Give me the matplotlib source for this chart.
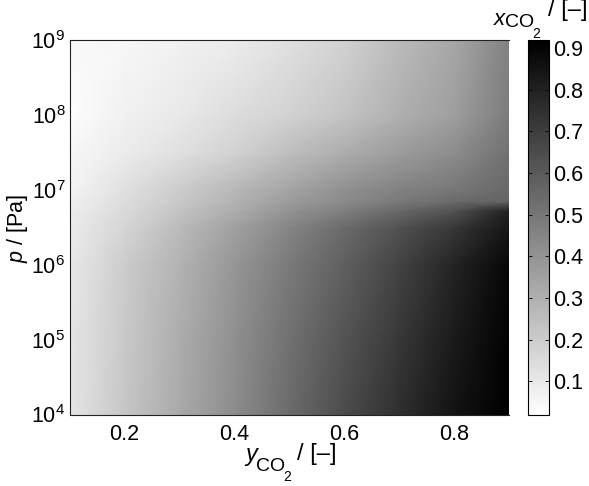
import numpy as np
import matplotlib
matplotlib.use("Agg")
import matplotlib.pyplot as plt

plt.rcParams["font.family"] = ["Liberation Sans", "DejaVu Sans"]
plt.rcParams["mathtext.fontset"] = "custom"
plt.rcParams["mathtext.rm"] = "Liberation Sans"
plt.rcParams["mathtext.it"] = "Liberation Sans:italic"
plt.rcParams["mathtext.bf"] = "Liberation Sans:bold"

y_co2 = [0.1, 0.2, 0.3, 0.4, 0.5, 0.6, 0.7, 0.8, 0.9]
log_p = [4, 5, 6, 6.5, 6.72, 6.85, 7, 7.5, 8, 9]

x_p40 = [0.11, 0.22, 0.32, 0.42, 0.54, 0.65, 0.75, 0.85, 0.92]
x_p50 = [0.11, 0.21, 0.31, 0.41, 0.52, 0.62, 0.72, 0.82, 0.91]
x_p60 = [0.10, 0.20, 0.29, 0.39, 0.49, 0.58, 0.68, 0.79, 0.89]
x_p65 = [0.09, 0.17, 0.26, 0.35, 0.45, 0.54, 0.63, 0.72, 0.84]
x_p67 = [0.08, 0.15, 0.23, 0.31, 0.40, 0.47, 0.55, 0.63, 0.80]
x_p68 = [0.07, 0.14, 0.21, 0.29, 0.37, 0.43, 0.49, 0.54, 0.57]
x_p70 = [0.06, 0.13, 0.20, 0.27, 0.34, 0.41, 0.46, 0.50, 0.55]
x_p75 = [0.05, 0.09, 0.13, 0.18, 0.25, 0.31, 0.37, 0.42, 0.52]
x_p80 = [0.03, 0.07, 0.10, 0.14, 0.18, 0.23, 0.30, 0.36, 0.48]
x_p90 = [0.04, 0.05, 0.07, 0.09, 0.13, 0.18, 0.26, 0.33, 0.46]

x_co2 = np.array([x_p40, x_p50, x_p60, x_p65, x_p67, x_p68, x_p70, x_p75, x_p80, x_p90])
p = 10.0 ** np.array(log_p)

x_ticks = [0.2, 0.4, 0.6, 0.8]
p_ticks = [1e4, 1e5, 1e6, 1e7, 1e8, 1e9]
p_labels = ["$\\mathregular{10^{%d}}$" % e for e in range(4, 10)]
cbar_ticks = [0.1, 0.2, 0.3, 0.4, 0.5, 0.6, 0.7, 0.8, 0.9]

W, H = 589, 486
fig = plt.figure(figsize=(W / 100, H / 100), dpi=100)
ax = fig.add_axes([69.5 / W, 1 - 414.5 / H, 439 / W, 374 / H])
cax = fig.add_axes([527.5 / W, 1 - 414.5 / H, 21.5 / W, 374 / H])


def px_text(x, y, s, size, **kw):
    # position in pixels from top-left, y is the baseline
    fig.text(x / W, 1 - y / H, s, fontsize=size, va="baseline", ha="left", **kw)


mesh = ax.pcolormesh(y_co2, p, x_co2, shading="gouraud", cmap="gray_r", vmin=0.02, vmax=0.918)
ax.set_yscale("log")
ax.set_xlim(0.1, 0.9)
ax.set_ylim(1e4, 1e9)
ax.set_xticks(x_ticks)
ax.set_xticklabels(["0.2", "0.4", "0.6", "0.8"])
ax.set_yticks(p_ticks)
ax.set_yticklabels(p_labels)
ax.minorticks_off()
ax.tick_params(axis="x", labelsize=15.5, length=0, pad=7)
ax.tick_params(axis="y", labelsize=15.5, length=0, pad=3)
ax.spines["right"].set_visible(False)
for s in ["top", "left", "bottom"]:
    ax.spines[s].set_linewidth(0.8)
    ax.spines[s].set_color("#222222")

fig.text(18 / W, 1 - 228 / H, "$\\mathit{p}$ / [Pa]", rotation=90, fontsize=15.5, ha="center", va="center")

# x label, subscripts sit lower than mathtext would put them
px_text(245, 461, "y", 17, style="italic")
px_text(256, 471, "CO", 14)
px_text(283, 481, "2", 10)
px_text(297, 460, "/ [–]", 17)

# colorbar title
px_text(494, 25, "x", 16, style="italic")
px_text(505, 27, "CO", 14)
px_text(532, 38, "2", 10)
px_text(548, 16, "/ [–]", 17)

cb = fig.colorbar(mesh, cax=cax)
cb.set_ticks(cbar_ticks)
cb.set_ticklabels(["0.1", "0.2", "0.3", "0.4", "0.5", "0.6", "0.7", "0.8", "0.9"])
cax.tick_params(labelsize=15.5, length=3, width=0.6, direction="in", pad=3, left=True, right=True)
cb.outline.set_linewidth(0.8)

fig.savefig("out.png", dpi=100)
